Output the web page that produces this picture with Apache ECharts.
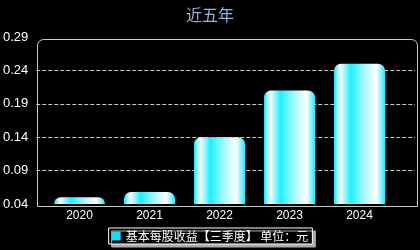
<!DOCTYPE html>
<html><head><meta charset="utf-8">
<script src="https://cdn.jsdelivr.net/npm/echarts@6/dist/echarts.min.js"></script>
<style>html,body{margin:0;padding:0;background:#000;}#c{width:420px;height:250px;}</style>
</head><body><div id="c"></div>
<script>
var categories = ['2020','2021','2022','2023','2024'];
var values = [0.05, 0.058, 0.14, 0.21, 0.25];
var seriesName = '基本每股收益【三季度】 单位：元';
var titleText = '近五年';
var yMin = 0.04, yMax = 0.29, yInterval = 0.05;

var chart = echarts.init(document.getElementById('c'));
var grad = new echarts.graphic.LinearGradient(0,0,1,0,[
  {offset:0,color:'#10e8fa'},
  {offset:0.12,color:'#ffffff'},
  {offset:0.32,color:'#1ff0ff'},
  {offset:0.6,color:'#aaf8ff'},
  {offset:0.83,color:'#ffffff'},
  {offset:1,color:'#20eaff'}
]);
chart.setOption({
  backgroundColor:'#000',
  animation:false,
  title:{text:titleText,left:'center',top:2,textStyle:{color:'#8fb4dc',fontSize:16,fontWeight:'normal',fontFamily:'Noto Sans CJK SC'}},
  grid:[{left:35,right:5,top:37,bottom:46},{left:44.5,right:25.5,top:37,bottom:46}],
  graphic:[{type:'rect',left:35,top:37,shape:{width:380,height:167,r:[6,6,0,0]},style:{fill:'none',stroke:'#cccccc',lineWidth:1},silent:true,z:10}],
  legend:{bottom:6,left:'center',data:[seriesName],itemWidth:9,itemHeight:9,icon:'rect',
    itemStyle:{color:'#19dcf0'},
    textStyle:{color:'#fff',fontSize:12,fontFamily:'Noto Sans CJK SC'},
    backgroundColor:'#000',borderColor:'#fff',borderWidth:1,padding:[2,4,2,3],
    shadowColor:'#aaa',shadowOffsetX:3,shadowOffsetY:3,shadowBlur:0,itemGap:4},
  xAxis:[
    {type:'value',gridIndex:0,show:false,min:0,max:1},
    {type:'category',gridIndex:1,data:categories,axisLine:{show:false},axisTick:{show:false},
    axisLabel:{color:'#fff',fontSize:12,fontFamily:'Liberation Sans',margin:6}}],
  yAxis:[
    {type:'value',gridIndex:0,min:yMin,max:yMax,interval:yInterval,
    axisLine:{show:false},axisTick:{show:false},
    axisLabel:{color:'#fff',fontSize:13,fontFamily:'Liberation Sans',margin:8,formatter:function(v){return v.toFixed(2);}},
    splitLine:{showMinLine:false,showMaxLine:false,lineStyle:{color:'#ccc',type:[4,2]}}},
    {type:'value',gridIndex:1,min:yMin,max:yMax,interval:yInterval,show:false,splitLine:{show:false}}],
  series:[{name:seriesName,type:'bar',xAxisIndex:1,yAxisIndex:1,data:values,barWidth:51,
    itemStyle:{color:grad,borderRadius:[7,7,0,0]}}],
  color:['#19dcf0']
});
</script></body></html>
